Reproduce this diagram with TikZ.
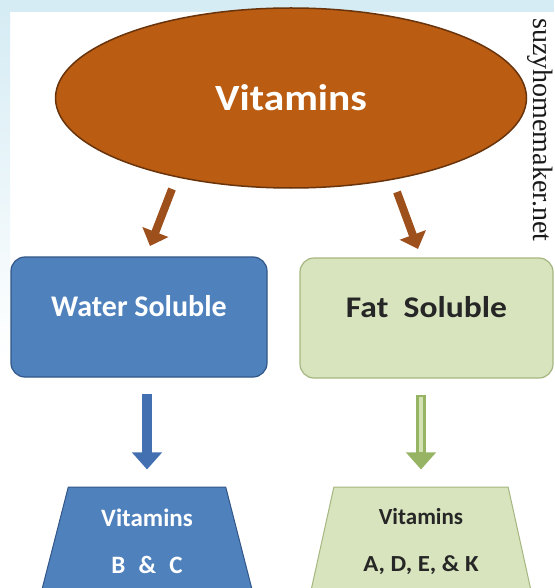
\documentclass[tikz,border=0pt]{standalone}
\usepackage{fontspec}
\setmainfont{Carlito}
\newfontfamily\markfont{Liberation Serif}
\usepackage{tikz}
\usetikzlibrary{shapes.geometric,arrows.meta,calc}
\definecolor{vitbrown}{RGB}{186,92,18}
\definecolor{vitbrowndk}{RGB}{105,52,12}
\definecolor{arrbrown}{RGB}{158,80,28}
\definecolor{wsblue}{RGB}{79,129,189}
\definecolor{wsbluedk}{RGB}{50,86,136}
\definecolor{arrblue}{RGB}{66,112,176}
\definecolor{fsgreen}{RGB}{215,228,189}
\definecolor{fsgreendk}{RGB}{165,182,128}
\definecolor{arrgreen}{RGB}{150,180,100}
\definecolor{arrgreenlt}{RGB}{210,226,178}
\definecolor{bgblue}{RGB}{214,236,244}
\tikzset{
  solbox/.style={rounded corners=14pt, minimum height=120pt, line width=1.2pt,
    font=\fontsize{30}{36}\selectfont\bfseries, text depth=22pt},
  trapbox/.style={trapezium, trapezium stretches=true, minimum height=108pt,
    line width=1pt, align=center, inner sep=0pt},
  downarrow/.style={line width=10pt, -{Triangle[width=29pt,length=17pt]}},
  slantarrow/.style={draw=arrbrown, line width=8pt, -{Triangle[width=27pt,length=15pt]}},
}
\begin{document}
\begin{tikzpicture}[x=1pt, y=-1pt, line join=round]
\useasboundingbox (0,0) rectangle (554,588);
\clip (0,0) rectangle (554,588);
\fill[white] (0,0) rectangle (554,588);
\fill[bgblue] (0,0) rectangle (554,12);
\shade[top color=bgblue, bottom color=white] (0,12) rectangle (10,360);
\coordinate (wsfrom) at (172,189);
\coordinate (wsto) at (150,246);
\coordinate (fsfrom) at (397,192);
\coordinate (fsto) at (418,249);
\node[ellipse, fill=vitbrown, draw=vitbrowndk, line width=1.5pt, minimum width=471pt,
  minimum height=180pt, text=white, font=\fontsize{37}{40}\selectfont\bfseries] (vit) at (291,98) {\scalebox{1.12}[1]{Vitamins}};
\node[font=\markfont\fontsize{28}{28}\selectfont, text=black!90, rotate=-90] (mark) at (540,130) {suzyhomemaker.net};
\node[solbox, fill=wsblue, draw=wsbluedk, minimum width=256pt, text=white] (ws) at (139,317) {Water Soluble};
\node[solbox, fill=fsgreen, draw=fsgreendk, minimum width=253pt, text=black!85] (fs) at (426.5,318) {\scalebox{1.12}[1]{Fat\ \ Soluble}};
\node[trapbox, trapezium angle=76, fill=wsblue, draw=wsbluedk, minimum width=213pt, text=white,
  font=\fontsize{25}{47}\selectfont\bfseries] (bc) at (147,541) {Vitamins\\B\hspace{0.3em} \&\hspace{0.3em} C};
\node[trapbox, trapezium angle=76.6, fill=fsgreen, draw=fsgreendk, minimum width=222pt, text=black!85,
  font=\fontsize{23}{47}\selectfont\bfseries] (adek) at (421,541) {Vitamins\\\scalebox{1.08}[1]{A, D, E, \& K}};
\draw[slantarrow] (wsfrom) -- (wsto);
\draw[slantarrow] (fsfrom) -- (fsto);
\draw[downarrow, draw=arrblue, shorten <=16pt, shorten >=17pt] (bc.north |- ws.south) -- (bc.north);
\draw[downarrow, draw=arrgreen, shorten <=16pt, shorten >=17pt] (adek.north |- fs.south) -- (adek.north);
\draw[arrgreenlt, line width=4pt, shorten <=18pt, shorten >=34pt] (adek.north |- fs.south) -- (adek.north);
\end{tikzpicture}
\end{document}
